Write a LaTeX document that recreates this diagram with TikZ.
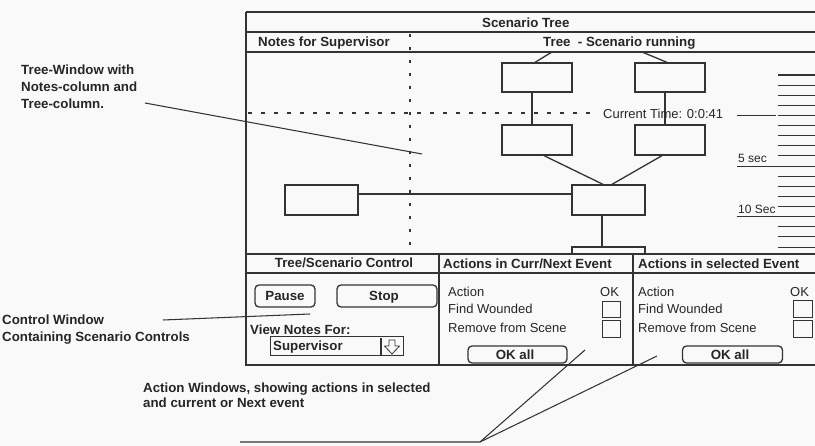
\documentclass[tikz,border=0pt]{standalone}
\usepackage{fontspec}
\setmainfont{Liberation Sans}
\definecolor{ink}{gray}{0.15}
\definecolor{lin}{gray}{0.2}
\definecolor{paper}{gray}{0.975}
\begin{document}
\begin{tikzpicture}[x=1pt,y=-1pt,
  ln/.style={draw=lin, line width=1.3pt},
  thin/.style={draw=lin, line width=1.05pt},
  dotv/.style={draw=lin, line width=1.1pt, dash pattern=on 3pt off 10pt},
  doth/.style={draw=lin, line width=1.1pt, dash pattern=on 4pt off 9pt},
  tbox/.style={draw=lin, line width=1.3pt, minimum width=70pt, minimum height=30pt, inner sep=0pt},
  lbl/.style={font=\fontsize{13.3}{15}\selectfont\bfseries, text=ink, inner sep=0pt},
  txt/.style={font=\fontsize{13}{15}\selectfont, text=ink, inner sep=0pt},
  btn/.style={draw=lin, line width=1.3pt, rounded corners=4pt, inner sep=0pt},
  chk/.style={draw=lin, line width=1pt, inner sep=0pt},
]
\useasboundingbox (0,0) rectangle (815,446);
\fill[paper] (0,0) rectangle (815,446);

% ---------- window frame ----------
\coordinate (wTL) at (246,12);
\coordinate (wTR) at (815,12);
\coordinate (wBL) at (246,365);
\coordinate (wBR) at (815,365);
\draw[draw=lin, line width=1.8pt] (wTL) -- (wTR);
\draw[ln] (wTL) -- (wBL) -- (wBR);
\draw[ln] (246,32) -- (815,32);
\draw[ln] (246,52) -- (815,52);
% notes / tree divider
\draw[dotv] (410,34) -- (410,252);
% current-time dashed line
\draw[doth] (248,113) -- (590,113);

% ---------- titles ----------
\node[lbl, anchor=base west] (title) at (482,27.5) {Scenario Tree};
\node[lbl, anchor=base west] (notesh) at (258,46.5) {Notes for Supervisor};
\node[lbl, anchor=base west] (treeh) at (543,46.5) {Tree~~- Scenario running};

% ---------- tree ----------
\node[tbox, minimum height=29pt] (A) at (537,77.5) {};
\node[tbox, minimum height=29pt] (B) at (670,77.5) {};
\node[tbox] (C) at (537,140) {};
\node[tbox] (D) at (670,140) {};
\node[tbox, minimum width=73pt] (E) at (608.5,200) {};
\node[tbox, minimum width=73pt, minimum height=7pt] (F) at (608.5,250.5) {};
\node[tbox, minimum width=73pt] (N) at (321.5,200) {};

\coordinate (pA) at (552,52);
\coordinate (pB) at (642,52);
\draw[ln] (pA) -- ([xshift=-2pt]A.north);
\draw[ln] (pB) -- ([xshift=-3pt]B.north);
\draw[ln] ([xshift=-5pt]A.south) -- ([xshift=-5pt]C.north);
\draw[ln] ([xshift=-5pt]B.south) -- ([xshift=-5pt]D.north);
\draw[ln] ([xshift=7pt]C.south) -- ([xshift=-5.5pt]E.north);
\draw[ln] ([xshift=-8pt]D.south) -- ([xshift=3.5pt]E.north);
\draw[ln] ([xshift=-6.5pt]E.south) -- ([xshift=-6.5pt]F.north);
\draw[ln] ([yshift=6pt]N.east) -- ([yshift=6pt]E.west);

% current time + ruler
\node[txt, anchor=base west] (ct) at (603,118.5) {Current Time: 0:0:41};
\coordinate (ctL) at (737,115.5);
\coordinate (ctR) at (776,115.5);
\draw[thin] (ctL) -- (ctR);
\foreach \k in {0,...,17}{
  \draw[thin] (778,{75+10.12*\k}) -- (815,{75+10.12*\k});
}
\node[txt, font=\fontsize{12}{14}\selectfont, anchor=base west] (five) at (738,163) {5 sec};
\node[txt, font=\fontsize{12}{14}\selectfont, anchor=base west] (ten) at (738,214) {10 Sec};
\draw[thin] (737,166.1) -- (778,166.1);
\draw[thin] (737,216.7) -- (778,216.7);

% ---------- bottom panes ----------
\draw[ln] (246,254) -- (815,254);
\draw[ln] (246,273) -- (815,273);
\draw[ln] (439,254) -- (439,365);
\draw[ln] (633,254) -- (633,365);

% control pane
\node[lbl, anchor=base] (ctrlh) at (344,268) {Tree/Scenario Control};
\node[btn, minimum width=60pt, minimum height=22pt] (pause) at (285,296) {};
\node[lbl, anchor=base] at (pause.center |- 0,300.5) {Pause};
\node[btn, minimum width=100pt, minimum height=22pt] (stop) at (387,296) {};
\node[lbl, anchor=base] at (384,300.5) {Stop};
\node[lbl, anchor=base west] (vnf) at (250,335) {View Notes For:};
\node[draw=lin, line width=1pt, minimum width=133pt, minimum height=19pt, inner sep=0pt] (dd) at (336.5,346.5) {};
\node[lbl, anchor=base west] (sup) at (273,351) {Supervisor};
\draw[thin] (381,338) -- (381,355);
\draw[draw=lin, line width=0.8pt, line join=round] (389,340) -- (395,340) -- (395,346) -- (399.5,346) -- (392,354) -- (384.5,346) -- (389,346) -- cycle;

% curr/next pane
\node[lbl, anchor=base west] (cnh) at (443,268.5) {Actions in Curr/Next Event};
\node[txt, anchor=base west] at (448,296.5) {Action};
\node[txt, anchor=base west] at (600,296.5) {OK};
\node[txt, anchor=base west] at (448,313.5) {Find Wounded};
\node[txt, anchor=base west] at (448,332.5) {Remove from Scene};
\node[chk, minimum width=18pt, minimum height=16pt] (c1) at (611,309.5) {};
\node[chk, minimum width=18pt, minimum height=17pt] (c2) at (611,329) {};
\node[btn, minimum width=99pt, minimum height=17pt] (oka) at (517.5,354.5) {};
\node[lbl, anchor=base] at (515,359.5) {OK all};

% selected pane
\node[lbl, anchor=base west] (selh) at (638,268.5) {Actions in selected Event};
\node[txt, anchor=base west] at (638,296.5) {Action};
\node[txt, anchor=base west] at (790,296.5) {OK};
\node[txt, anchor=base west] at (638,313.5) {Find Wounded};
\node[txt, anchor=base west] at (638,332.5) {Remove from Scene};
\node[chk, minimum width=19pt, minimum height=17pt] (c3) at (802.5,309) {};
\node[chk, minimum width=19pt, minimum height=17pt] (c4) at (802.5,329) {};
\node[btn, minimum width=100pt, minimum height=17pt] (okb) at (732.5,354.5) {};
\node[lbl, anchor=base] at (730,359.5) {OK all};

% ---------- annotations ----------
\node[lbl, anchor=base west] (ann1a) at (21,74.5) {Tree-Window with};
\node[lbl, anchor=base west] (ann1b) at (21,91.5) {Notes-column and};
\node[lbl, anchor=base west] (ann1c) at (21,108.5) {Tree-column.};
\coordinate (a1s) at (145,103);
\coordinate (a1e) at (422,154);
\draw[thin] (a1s) -- (a1e);

\node[lbl, anchor=base west] (ann2a) at (2,324.5) {Control Window};
\node[lbl, anchor=base west] (ann2b) at (2,341.5) {Containing Scenario Controls};
\coordinate (a2s) at (163,320);
\coordinate (a2e) at (310,314);
\draw[thin] (a2s) -- (a2e);

\node[lbl, anchor=base west] (ann3a) at (143,392.5) {Action Windows, showing actions in selected};
\node[lbl, anchor=base west] (ann3b) at (143,407.5) {and current or Next event};
\coordinate (a3s) at (240,442);
\coordinate (a3m) at (480,442);
\coordinate (a3e1) at (585,350);
\coordinate (a3e2) at (657,356);
\draw[thin] (a3s) -- (a3m) -- (a3e1);
\draw[thin] (a3m) -- (a3e2);
\end{tikzpicture}
\end{document}
